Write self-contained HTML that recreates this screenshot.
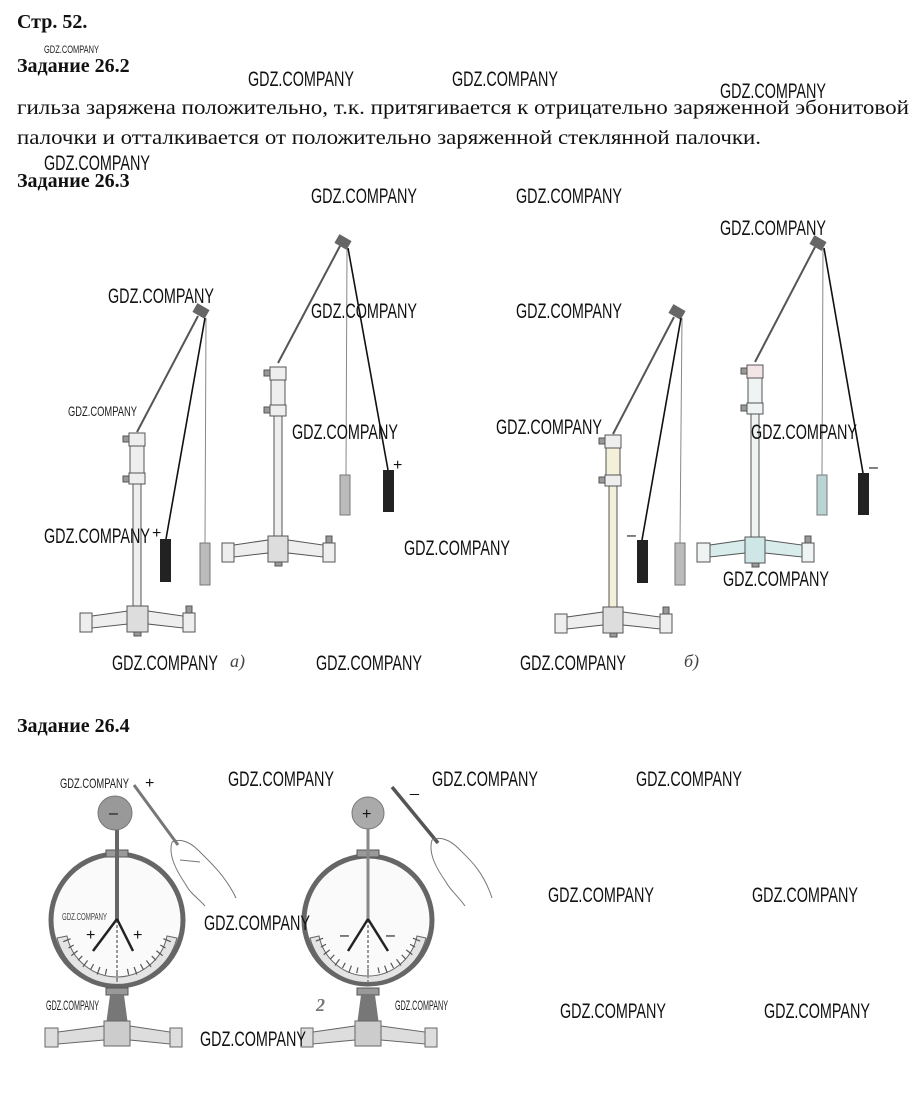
<!DOCTYPE html>
<html><head><meta charset="utf-8"><style>
html,body{margin:0;padding:0;background:#fff;}
svg{display:block}
.h{font-family:"Liberation Serif",serif;font-weight:bold;font-size:20px;fill:#111}
.t{font-family:"Liberation Serif",serif;font-size:19.5px;fill:#111}
.w{font-family:"Liberation Sans",sans-serif;font-size:21px;fill:#111}
.ws{font-family:"Liberation Sans",sans-serif;font-size:11px;fill:#222}
.sg{font-family:"Liberation Sans",sans-serif;font-size:16px;fill:#111}
</style></head><body>
<svg width="916" height="1095" viewBox="0 0 916 1095" xmlns="http://www.w3.org/2000/svg">
<defs>
<g id="ticks" stroke="#555" stroke-width="1.2">
 <line x1="50" y1="0" x2="58" y2="0" transform="rotate(22)"/>
 <line x1="50" y1="0" x2="56" y2="0" transform="rotate(30)"/>
 <line x1="50" y1="0" x2="58" y2="0" transform="rotate(38)"/>
 <line x1="50" y1="0" x2="56" y2="0" transform="rotate(46)"/>
 <line x1="50" y1="0" x2="58" y2="0" transform="rotate(54)"/>
 <line x1="50" y1="0" x2="56" y2="0" transform="rotate(62)"/>
 <line x1="50" y1="0" x2="58" y2="0" transform="rotate(70)"/>
 <line x1="50" y1="0" x2="56" y2="0" transform="rotate(78)"/>
 <line x1="50" y1="0" x2="60" y2="0" transform="rotate(90)"/>
 <line x1="50" y1="0" x2="56" y2="0" transform="rotate(102)"/>
 <line x1="50" y1="0" x2="58" y2="0" transform="rotate(110)"/>
 <line x1="50" y1="0" x2="56" y2="0" transform="rotate(118)"/>
 <line x1="50" y1="0" x2="58" y2="0" transform="rotate(126)"/>
 <line x1="50" y1="0" x2="56" y2="0" transform="rotate(134)"/>
 <line x1="50" y1="0" x2="58" y2="0" transform="rotate(142)"/>
 <line x1="50" y1="0" x2="56" y2="0" transform="rotate(150)"/>
 <line x1="50" y1="0" x2="58" y2="0" transform="rotate(158)"/>
</g>
</defs>
<text class="h" x="17" y="28">Стр. 52.</text>
<text class="ws" x="44" y="53" textLength="55" lengthAdjust="spacingAndGlyphs">GDZ.COMPANY</text>
<text class="h" x="17" y="72">Задание 26.2</text>
<text class="t" x="17" y="114" textLength="892" lengthAdjust="spacingAndGlyphs">гильза заряжена положительно, т.к. притягивается к отрицательно заряженной эбонитовой</text>
<text class="t" x="17" y="144" textLength="744" lengthAdjust="spacingAndGlyphs">палочки и отталкивается от положительно заряженной стеклянной палочки.</text>
<text class="h" x="17" y="187">Задание 26.3</text>
<text class="h" x="17" y="732">Задание 26.4</text>

<!-- Stand a-left -->
<g stroke="#555" stroke-width="1" fill="#eee">
 <rect x="133" y="445" width="8" height="165"/>
 <rect x="129" y="433" width="16" height="13"/><rect x="130" y="446" width="14" height="27"/><rect x="129" y="473" width="16" height="11"/>
 <rect x="123" y="436" width="6" height="6" fill="#999"/><rect x="123" y="476" width="6" height="6" fill="#999"/>
 <polygon points="92,616 128,611 128,624 92,628"/><polygon points="148,611 183,616 183,628 148,624"/>
 <rect x="80" y="613" width="12" height="19"/><rect x="183" y="613" width="12" height="19"/><rect x="186" y="606" width="6" height="7" fill="#999"/>
 <rect x="127" y="606" width="21" height="26" fill="#ddd"/>
 <rect x="134" y="632" width="7" height="4" fill="#999"/>
</g>
<line x1="137" y1="432" x2="198" y2="316" stroke="#555" stroke-width="2"/>
<rect x="194" y="306" width="14" height="10" fill="#666" transform="rotate(30 201 311)"/>
<line x1="205" y1="318" x2="166" y2="539" stroke="#111" stroke-width="1.6"/>
<line x1="206" y1="318" x2="205" y2="543" stroke="#888" stroke-width="1"/>
<rect x="160" y="539" width="11" height="43" fill="#222"/>
<rect x="200" y="543" width="10" height="42" fill="#bbb" stroke="#777"/>
<text class="sg" x="152" y="538">+</text>

<!-- Stand a-right -->
<g stroke="#555" stroke-width="1" fill="#eee">
 <rect x="274" y="380" width="8" height="160"/>
 <rect x="270" y="367" width="16" height="13"/><rect x="271" y="380" width="14" height="25"/><rect x="270" y="405" width="16" height="11"/>
 <rect x="264" y="370" width="6" height="6" fill="#999"/><rect x="264" y="407" width="6" height="6" fill="#999"/>
 <polygon points="234,545 268,540 268,553 234,557"/><polygon points="288,540 323,545 323,557 288,553"/>
 <rect x="222" y="543" width="12" height="19"/><rect x="323" y="543" width="12" height="19"/><rect x="326" y="536" width="6" height="7" fill="#999"/>
 <rect x="268" y="536" width="20" height="26" fill="#ddd"/>
 <rect x="275" y="562" width="7" height="4" fill="#999"/>
</g>
<line x1="278" y1="363" x2="340" y2="246" stroke="#555" stroke-width="2"/>
<rect x="336" y="237" width="14" height="10" fill="#666" transform="rotate(30 343 242)"/>
<line x1="348" y1="248" x2="388" y2="470" stroke="#111" stroke-width="1.6"/>
<line x1="347" y1="248" x2="346" y2="475" stroke="#888" stroke-width="1"/>
<rect x="383" y="470" width="11" height="42" fill="#222"/>
<rect x="340" y="475" width="10" height="40" fill="#bbb" stroke="#777"/>
<text class="sg" x="393" y="470">+</text>
<text x="230" y="667" style="font-family:'Liberation Serif',serif;font-style:italic;font-size:18px;fill:#444">а)</text>

<!-- Stand b-left -->
<g stroke="#555" stroke-width="1" fill="#eee">
 <rect x="609" y="447" width="8" height="163" fill="#f3efd8"/>
 <rect x="605" y="435" width="16" height="13"/><rect x="606" y="448" width="14" height="27" fill="#f3efd8"/><rect x="605" y="475" width="16" height="11"/>
 <rect x="599" y="438" width="6" height="6" fill="#999"/><rect x="599" y="477" width="6" height="6" fill="#999"/>
 <polygon points="567,617 603,612 603,625 567,629"/><polygon points="623,612 660,617 660,629 623,625"/>
 <rect x="555" y="614" width="12" height="19"/><rect x="660" y="614" width="12" height="19"/><rect x="663" y="607" width="6" height="7" fill="#999"/>
 <rect x="603" y="607" width="20" height="26" fill="#ddd"/>
 <rect x="610" y="633" width="7" height="4" fill="#999"/>
</g>
<line x1="613" y1="434" x2="674" y2="317" stroke="#555" stroke-width="2"/>
<rect x="670" y="307" width="14" height="10" fill="#666" transform="rotate(30 677 312)"/>
<line x1="681" y1="318" x2="642" y2="540" stroke="#111" stroke-width="1.6"/>
<line x1="682" y1="318" x2="680" y2="543" stroke="#888" stroke-width="1"/>
<rect x="637" y="540" width="11" height="43" fill="#222"/>
<rect x="675" y="543" width="10" height="42" fill="#bbb" stroke="#777"/>
<text class="sg" x="627" y="540">–</text>

<!-- Stand b-right -->
<g stroke="#555" stroke-width="1" fill="#eef3f3">
 <rect x="751" y="378" width="8" height="162"/>
 <rect x="747" y="365" width="16" height="13" fill="#f3e4e6"/><rect x="748" y="378" width="14" height="25"/><rect x="747" y="403" width="16" height="11"/>
 <rect x="741" y="368" width="6" height="6" fill="#999"/><rect x="741" y="405" width="6" height="6" fill="#999"/>
 <polygon points="710,545 745,540 745,553 710,557" fill="#d8ecec"/><polygon points="765,540 802,545 802,557 765,553" fill="#d8ecec"/>
 <rect x="697" y="543" width="13" height="19"/><rect x="802" y="543" width="12" height="19"/><rect x="805" y="536" width="6" height="7" fill="#999"/>
 <rect x="745" y="537" width="20" height="26" fill="#cfe6e6"/>
 <rect x="752" y="563" width="7" height="4" fill="#999"/>
</g>
<line x1="755" y1="362" x2="815" y2="247" stroke="#555" stroke-width="2"/>
<rect x="811" y="238" width="14" height="10" fill="#666" transform="rotate(30 818 243)"/>
<line x1="824" y1="248" x2="863" y2="473" stroke="#111" stroke-width="1.6"/>
<line x1="823" y1="248" x2="822" y2="475" stroke="#888" stroke-width="1"/>
<rect x="858" y="473" width="11" height="42" fill="#222"/>
<rect x="817" y="475" width="10" height="40" fill="#b8d4d4" stroke="#777"/>
<text class="sg" x="869" y="472">–</text>
<text x="684" y="667" style="font-family:'Liberation Serif',serif;font-style:italic;font-size:18px;fill:#444">б)</text>

<!-- Electroscope 1 -->
<g>
 <circle cx="117" cy="920" r="66" fill="#fafafa" stroke="#666" stroke-width="5"/>
 <path d="M57,938 A62 62 0 0 0 177,938 L167,936 A51 51 0 0 1 67,936 Z" fill="#e4e4e4" stroke="#666"/>
 <use href="#ticks" transform="translate(117,920)"/>
 <rect x="106" y="850" width="22" height="7" fill="#999" stroke="#555"/>
 <line x1="117" y1="828" x2="117" y2="920" stroke="#666" stroke-width="4"/>
 <line x1="117" y1="920" x2="117" y2="982" stroke="#999" stroke-width="2" stroke-dasharray="3 2"/>
 <line x1="117" y1="919" x2="93" y2="951" stroke="#222" stroke-width="2.5"/>
 <line x1="117" y1="919" x2="133" y2="951" stroke="#222" stroke-width="2.5"/>
 <circle cx="115" cy="813" r="17" fill="#999" stroke="#777"/>
 <text class="sg" x="109" y="818">–</text>
 <text class="sg" x="86" y="940">+</text><text class="sg" x="133" y="940">+</text>
 <rect x="106" y="988" width="22" height="7" fill="#999" stroke="#555"/>
 <polygon points="110,995 124,995 128,1025 106,1025" fill="#777"/>
 <polygon points="58,1032 104,1026 104,1040 58,1044" fill="#ddd" stroke="#666"/>
 <polygon points="130,1026 170,1032 170,1044 130,1040" fill="#ddd" stroke="#666"/>
 <rect x="45" y="1028" width="13" height="19" fill="#ddd" stroke="#666"/><rect x="170" y="1028" width="12" height="19" fill="#ddd" stroke="#666"/>
 <rect x="104" y="1021" width="26" height="25" fill="#ccc" stroke="#666"/>
 <line x1="134" y1="785" x2="178" y2="845" stroke="#777" stroke-width="3"/>
 <path d="M172,842 C180,838 190,842 198,850 C208,860 225,875 236,898 M172,842 C168,855 176,870 186,885 C190,893 198,898 205,906 M180,860 L200,862" fill="none" stroke="#777" stroke-width="1"/>
 <text class="sg" x="145" y="788">+</text>
</g>
<!-- Electroscope 2 -->
<g>
 <circle cx="368" cy="920" r="64" fill="#fafafa" stroke="#666" stroke-width="5"/>
 <path d="M310,938 A60 60 0 0 0 426,938 L417,936 A50 50 0 0 1 319,936 Z" fill="#e4e4e4" stroke="#666"/>
 <use href="#ticks" transform="translate(368,920) scale(0.97)"/>
 <rect x="357" y="850" width="22" height="7" fill="#999" stroke="#555"/>
 <line x1="368" y1="828" x2="368" y2="920" stroke="#888" stroke-width="3"/>
 <line x1="368" y1="920" x2="368" y2="982" stroke="#999" stroke-width="2" stroke-dasharray="3 2"/>
 <line x1="368" y1="919" x2="348" y2="951" stroke="#222" stroke-width="2.5"/>
 <line x1="368" y1="919" x2="388" y2="951" stroke="#222" stroke-width="2.5"/>
 <circle cx="368" cy="813" r="16" fill="#aaa" stroke="#777"/>
 <text class="sg" x="362" y="819">+</text>
 <text class="sg" x="340" y="940">–</text><text class="sg" x="386" y="940">–</text>
 <rect x="357" y="988" width="22" height="7" fill="#999" stroke="#555"/>
 <polygon points="361,995 375,995 379,1025 357,1025" fill="#777"/>
 <polygon points="313,1032 355,1026 355,1040 313,1044" fill="#ddd" stroke="#666"/>
 <polygon points="381,1026 425,1032 425,1044 381,1040" fill="#ddd" stroke="#666"/>
 <rect x="301" y="1028" width="12" height="19" fill="#ddd" stroke="#666"/><rect x="425" y="1028" width="12" height="19" fill="#ddd" stroke="#666"/>
 <rect x="355" y="1021" width="26" height="25" fill="#ccc" stroke="#666"/>
 <line x1="392" y1="787" x2="438" y2="843" stroke="#555" stroke-width="3.5"/>
 <path d="M432,840 C440,836 450,840 458,848 C468,858 483,870 492,898 M432,840 C428,853 436,868 446,882 C450,890 458,896 465,906" fill="none" stroke="#777" stroke-width="1"/>
 <text class="sg" x="410" y="792">_</text>
 <text x="316" y="1011" style="font-family:'Liberation Serif',serif;font-style:italic;font-weight:bold;font-size:18px;fill:#777">2</text>
</g>

<!-- watermarks -->
<g class="w">
<text x="248" y="86" textLength="106" lengthAdjust="spacingAndGlyphs">GDZ.COMPANY</text>
<text x="452" y="86" textLength="106" lengthAdjust="spacingAndGlyphs">GDZ.COMPANY</text>
<text x="720" y="98" textLength="106" lengthAdjust="spacingAndGlyphs">GDZ.COMPANY</text>
<text x="44" y="170" textLength="106" lengthAdjust="spacingAndGlyphs">GDZ.COMPANY</text>
<text x="311" y="203" textLength="106" lengthAdjust="spacingAndGlyphs">GDZ.COMPANY</text>
<text x="516" y="203" textLength="106" lengthAdjust="spacingAndGlyphs">GDZ.COMPANY</text>
<text x="720" y="235" textLength="106" lengthAdjust="spacingAndGlyphs">GDZ.COMPANY</text>
<text x="108" y="303" textLength="106" lengthAdjust="spacingAndGlyphs">GDZ.COMPANY</text>
<text x="311" y="318" textLength="106" lengthAdjust="spacingAndGlyphs">GDZ.COMPANY</text>
<text x="516" y="318" textLength="106" lengthAdjust="spacingAndGlyphs">GDZ.COMPANY</text>
<text x="292" y="439" textLength="106" lengthAdjust="spacingAndGlyphs">GDZ.COMPANY</text>
<text x="496" y="434" textLength="106" lengthAdjust="spacingAndGlyphs">GDZ.COMPANY</text>
<text x="751" y="439" textLength="106" lengthAdjust="spacingAndGlyphs">GDZ.COMPANY</text>
<text x="44" y="543" textLength="106" lengthAdjust="spacingAndGlyphs">GDZ.COMPANY</text>
<text x="404" y="555" textLength="106" lengthAdjust="spacingAndGlyphs">GDZ.COMPANY</text>
<text x="723" y="586" textLength="106" lengthAdjust="spacingAndGlyphs">GDZ.COMPANY</text>
<text x="112" y="670" textLength="106" lengthAdjust="spacingAndGlyphs">GDZ.COMPANY</text>
<text x="316" y="670" textLength="106" lengthAdjust="spacingAndGlyphs">GDZ.COMPANY</text>
<text x="520" y="670" textLength="106" lengthAdjust="spacingAndGlyphs">GDZ.COMPANY</text>
<text x="228" y="786" textLength="106" lengthAdjust="spacingAndGlyphs">GDZ.COMPANY</text>
<text x="432" y="786" textLength="106" lengthAdjust="spacingAndGlyphs">GDZ.COMPANY</text>
<text x="636" y="786" textLength="106" lengthAdjust="spacingAndGlyphs">GDZ.COMPANY</text>
<text x="548" y="902" textLength="106" lengthAdjust="spacingAndGlyphs">GDZ.COMPANY</text>
<text x="752" y="902" textLength="106" lengthAdjust="spacingAndGlyphs">GDZ.COMPANY</text>
<text x="204" y="930" textLength="106" lengthAdjust="spacingAndGlyphs">GDZ.COMPANY</text>
<text x="560" y="1018" textLength="106" lengthAdjust="spacingAndGlyphs">GDZ.COMPANY</text>
<text x="764" y="1018" textLength="106" lengthAdjust="spacingAndGlyphs">GDZ.COMPANY</text>
<text x="200" y="1046" textLength="106" lengthAdjust="spacingAndGlyphs">GDZ.COMPANY</text>
</g>
<g style="font-family:'Liberation Sans',sans-serif;font-size:14px;fill:#222">
<text x="68" y="416" textLength="69" lengthAdjust="spacingAndGlyphs">GDZ.COMPANY</text>
<text x="60" y="788" textLength="69" lengthAdjust="spacingAndGlyphs">GDZ.COMPANY</text>
<text x="46" y="1010" textLength="53" lengthAdjust="spacingAndGlyphs">GDZ.COMPANY</text>
<text x="395" y="1010" textLength="53" lengthAdjust="spacingAndGlyphs">GDZ.COMPANY</text>
</g>
<text x="62" y="920" textLength="45" lengthAdjust="spacingAndGlyphs" style="font-family:'Liberation Sans',sans-serif;font-size:10px;fill:#444">GDZ.COMPANY</text>
</svg>
</body></html>
